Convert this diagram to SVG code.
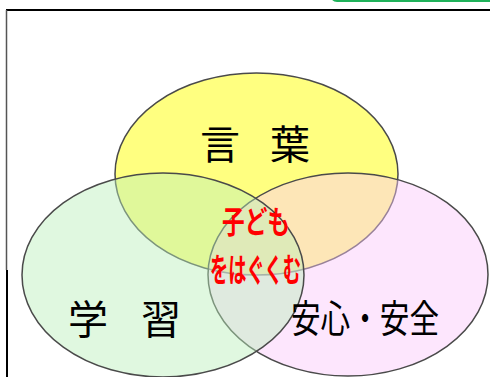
<svg xmlns="http://www.w3.org/2000/svg" width="490" height="377" viewBox="0 0 490 377">
<style>
.el{stroke:#4a4a4a;stroke-width:1.5}
.lbl{font-family:"Noto Sans CJK JP","Noto Sans CJK SC",sans-serif;fill:#000}
.red{font-family:"Noto Sans CJK JP","Noto Sans CJK SC",sans-serif;fill:#ff0000;font-weight:700}
</style>
<rect x="0" y="0" width="490" height="377" fill="#ffffff"/>
<g id="frame">
<rect x="330" y="-12" width="170" height="14" rx="7" fill="#1fb25a"/>
<line x1="6" y1="10" x2="490" y2="10" stroke="#000" stroke-width="2"/>
<line x1="6.5" y1="10" x2="6.5" y2="270" stroke="#555" stroke-width="1.5"/>
<line x1="7" y1="270" x2="7" y2="377" stroke="#000" stroke-width="2"/>
</g>
<g id="kotoba">
<ellipse class="el" cx="256.5" cy="174" rx="141.5" ry="101" fill="#ffff80"/>
</g>
<g id="anshin">
<ellipse class="el" cx="348" cy="274.5" rx="140" ry="101.5" fill="#fac8fa" fill-opacity="0.45"/>
</g>
<g id="gakushu">
<ellipse class="el" cx="163" cy="275" rx="141" ry="102" fill="#baf0ba" fill-opacity="0.45"/>
</g>
<g id="labels">
<text class="lbl" font-size="40" x="220 290" y="159" text-anchor="middle">言葉</text>
<text class="lbl" font-size="40" x="88 161" y="334" text-anchor="middle">学習</text>
<text class="lbl" font-size="38" x="291" y="332" textLength="148" lengthAdjust="spacingAndGlyphs">安心・安全</text>
</g>
<g id="center">
<text class="red" font-size="31" x="222" y="233" textLength="68" lengthAdjust="spacingAndGlyphs">子ども</text>
<text class="red" font-size="33" x="210" y="282" textLength="91" lengthAdjust="spacingAndGlyphs">をはぐくむ</text>
</g>
</svg>
